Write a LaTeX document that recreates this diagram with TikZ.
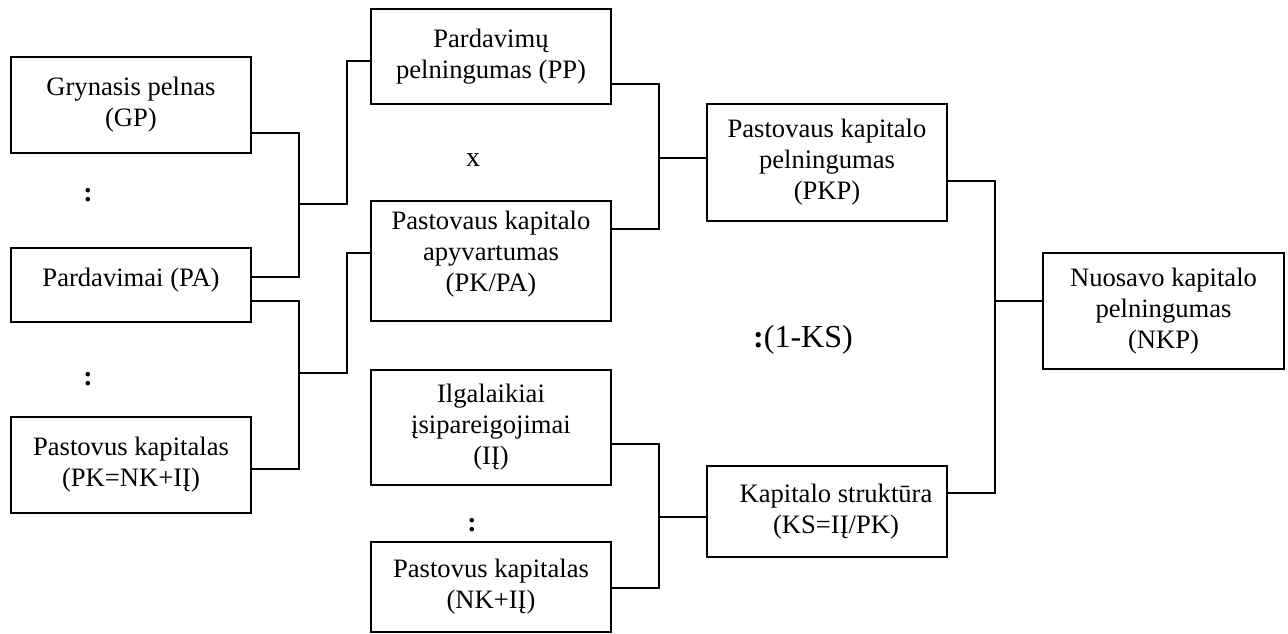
\documentclass[tikz,border=0pt]{standalone}
\usepackage{fontspec}
\setmainfont{Liberation Serif}
\usetikzlibrary{calc}
\tikzset{
  box/.style={draw, line width=1.5pt, minimum width=240pt, align=center, inner sep=0pt,
    font=\fontsize{26.6}{31}\selectfont},
  conn/.style={line width=1.5pt},
  sym/.style={inner sep=0pt, font=\fontsize{28}{32}\selectfont\bfseries}
}
\begin{document}
\begin{tikzpicture}[x=1pt,y=-1pt]
\useasboundingbox (0,0) rectangle (1288,633);
% column 1
\node[box, minimum height=96pt] (gp) at (131,105) {Grynasis pelnas\\(GP)};
\node[box, minimum height=74pt, text depth=16pt] (pa) at (131,285) {Pardavimai (PA)};
\node[box, minimum height=96pt] (pk) at (131,465) {Pastovus kapitalas\\(PK=NK+IĮ)};
% column 2
\node[box, minimum height=95pt] (pp) at (491,56.5) {Pardavimų\\pelningumas (PP)};
\node[box, minimum height=120pt, text depth=20pt] (pkpa) at (491,261) {Pastovaus kapitalo\\apyvartumas\\(PK/PA)};
\node[box, minimum height=115pt] (ij) at (491,427.5) {Ilgalaikiai\\įsipareigojimai\\(IĮ)};
\node[box, minimum height=90pt] (nkij) at (491,587) {Pastovus kapitalas\\(NK+IĮ)};
% column 3
\node[box, minimum height=117pt] (pkp) at (827,162.5) {Pastovaus kapitalo\\pelningumas\\(PKP)};
\node[box, minimum height=91pt] (ks) at (827,511.5) {\hspace*{18pt}Kapitalo struktūra\\\hspace*{18pt}(KS=IĮ/PK)};
% column 4
\node[box, minimum width=241pt, minimum height=116pt] (nkp) at (1163.5,311) {Nuosavo kapitalo\\pelningumas\\(NKP)};
% operators
\node[sym] (op1) at (88,195) {:};
\node[sym] (op2) at (88,379) {:};
\node[inner sep=0pt, font=\fontsize{28}{32}\selectfont] (op3) at (473,160) {x};
\node[sym] (op4) at (472,525) {:};
\node[inner sep=0pt, font=\fontsize{32}{36}\selectfont] (op5) at (803,340) {\textbf{:}(1-KS)};
% junctions
\coordinate (c1) at (299,204);
\coordinate (c2) at (299,373);
\coordinate (c3) at (659,158);
\coordinate (c4) at (659,517);
\coordinate (c5) at (995,301);
% connectors
\draw[conn] ([yshift=-28pt]gp.east) -| (c1) |- ([yshift=8pt]pa.east);
\draw[conn] (c1) -- ++(48,0) |- ([yshift=-4.5pt]pp.west);
\draw[conn] ([yshift=-16pt]pa.east) -| (c2) |- ([yshift=-4pt]pk.east);
\draw[conn] (c2) -- ++(48,0) |- ([yshift=8pt]pkpa.west);
\draw[conn] ([yshift=-27.5pt]pp.east) -| (c3) |- ([yshift=32pt]pkpa.east);
\draw[conn] (c3) -- ([yshift=4.5pt]pkp.west);
\draw[conn] ([yshift=-16.5pt]ij.east) -| (c4) |- ([yshift=-1pt]nkij.east);
\draw[conn] (c4) -- ([yshift=-5.5pt]ks.west);
\draw[conn] ([yshift=-18.5pt]pkp.east) -| (c5) |- ([yshift=18.5pt]ks.east);
\draw[conn] (c5) -- ([yshift=10pt]nkp.west);
\end{tikzpicture}
\end{document}
